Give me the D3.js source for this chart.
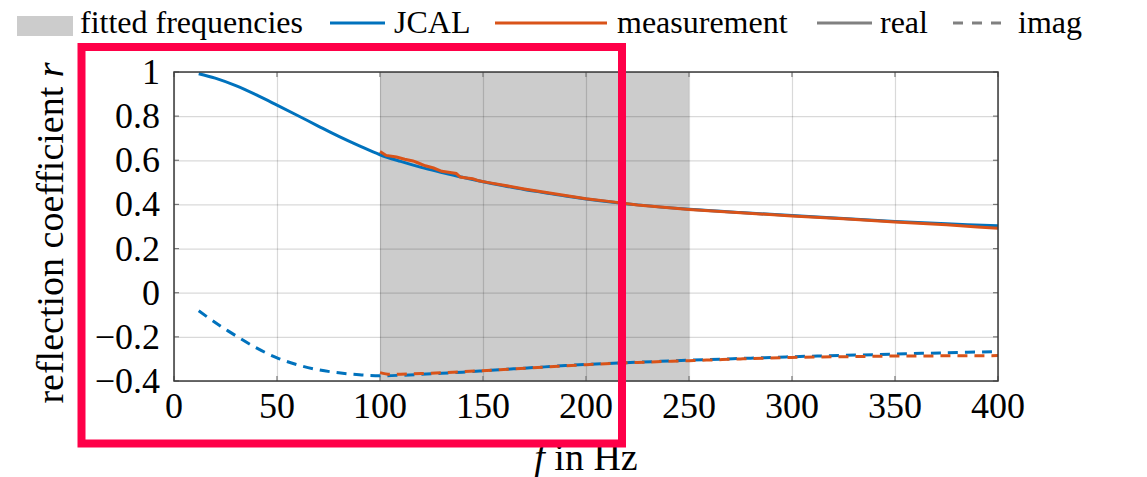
<!DOCTYPE html>
<html>
<head>
<meta charset="utf-8">
<script src="https://cdn.jsdelivr.net/npm/d3@7"></script>
<style>
    body { margin: 0; background: #fff; }
    svg { display: block; }
    text { font-family: 'Liberation Serif', 'Times New Roman', Times, 'DejaVu Serif', serif; }
</style>
</head>
<body>
<svg width="1147" height="477"></svg>
<script>
// JCAL model, sampled in Hz
const jcalFreq = [12, 20, 30, 40, 50, 60, 70, 80, 90, 100, 110, 120, 130, 140, 150, 160, 170, 180, 190, 200,
    225, 250, 275, 300, 325, 350, 375, 400];
const jcalReal = [0.992, 0.972, 0.938, 0.896, 0.85, 0.803, 0.755, 0.708, 0.665, 0.625, 0.595, 0.568, 0.545, 0.523,
    0.503, 0.485, 0.468, 0.453, 0.438, 0.425, 0.398, 0.378, 0.363, 0.35, 0.336, 0.323, 0.312, 0.303];
const jcalImag = [-0.082, -0.135, -0.195, -0.25, -0.295, -0.327, -0.349, -0.363, -0.372, -0.376, -0.374, -0.37,
    -0.365, -0.36, -0.354, -0.348, -0.342, -0.336, -0.33, -0.325, -0.315, -0.306, -0.298, -0.29, -0.284,
    -0.278, -0.272, -0.267];

// measurement
const measRealFreq = [100, 103, 108, 112, 116, 118, 122, 126, 130, 134, 137, 139, 142, 145, 148, 152, 160, 170,
    180, 190, 200, 210, 225, 250, 275, 300, 325, 350, 375, 390, 400];
const measReal = [0.64, 0.622, 0.615, 0.605, 0.597, 0.59, 0.575, 0.565, 0.55, 0.545, 0.54, 0.524, 0.52, 0.516,
    0.507, 0.5, 0.487, 0.47, 0.455, 0.44, 0.426, 0.415, 0.397, 0.377, 0.362, 0.348, 0.335, 0.32, 0.308, 0.298, 0.292];
const measImagFreq = [100, 105, 110, 120, 140, 160, 180, 200, 225, 250, 275, 300, 325, 350, 375, 400];
const measImag = [-0.362, -0.37, -0.369, -0.366, -0.358, -0.348, -0.337, -0.326, -0.316, -0.308, -0.3, -0.293,
    -0.29, -0.287, -0.286, -0.285];

const fittedRange = [100, 250];
const xTicks = [0, 50, 100, 150, 200, 250, 300, 350, 400];
const yTicks = [-0.4, -0.2, 0, 0.2, 0.4, 0.6, 0.8, 1];

const blue = "#0072bd";
const orange = "#d95319";
const serif = "'Liberation Serif', 'Times New Roman', Times, 'DejaVu Serif', serif";

const svg = d3.select("svg").attr("font-family", serif);
const plotLeft = 174, plotRight = 998, plotTop = 72, plotBottom = 381;

const x = d3.scaleLinear().domain([0, 400]).range([plotLeft, plotRight]);
const y = d3.scaleLinear().domain([-0.4, 1]).range([plotBottom, plotTop]);

function fmt(v) {
    return String(+v.toFixed(1)).replace("-", "\u2212");
}

// shaded fitted band
svg.append("rect")
    .attr("x", x(fittedRange[0]))
    .attr("y", plotTop)
    .attr("width", x(fittedRange[1]) - x(fittedRange[0]))
    .attr("height", plotBottom - plotTop)
    .attr("fill", "#cccccc");

// grid
svg.append("g")
    .attr("transform", `translate(0,${plotBottom})`)
    .call(d3.axisBottom(x).tickValues(xTicks).tickSize(-(plotBottom - plotTop)).tickFormat(""))
    .call(g => g.select(".domain").remove())
    .call(g => g.selectAll("line").attr("stroke", "#000").attr("stroke-opacity", 0.15).attr("stroke-width", 1.2));

svg.append("g")
    .attr("transform", `translate(${plotLeft},0)`)
    .call(d3.axisLeft(y).tickValues(yTicks).tickSize(-(plotRight - plotLeft)).tickFormat(""))
    .call(g => g.select(".domain").remove())
    .call(g => g.selectAll("line").attr("stroke", "#000").attr("stroke-opacity", 0.15).attr("stroke-width", 1.2));

// inner tick marks on all four sides
const tickLen = 5;
const tickG = svg.append("g").attr("stroke", "#777").attr("stroke-width", 1.2);
xTicks.forEach(t => {
    tickG.append("line").attr("x1", x(t)).attr("x2", x(t)).attr("y1", plotBottom).attr("y2", plotBottom - tickLen);
    tickG.append("line").attr("x1", x(t)).attr("x2", x(t)).attr("y1", plotTop).attr("y2", plotTop + tickLen);
});
yTicks.forEach(t => {
    tickG.append("line").attr("x1", plotLeft).attr("x2", plotLeft + tickLen).attr("y1", y(t)).attr("y2", y(t));
    tickG.append("line").attr("x1", plotRight).attr("x2", plotRight - tickLen).attr("y1", y(t)).attr("y2", y(t));
});

// curves
function drawCurve(freq, vals, color, dashed, curve) {
    const line = d3.line()
        .x((d, i) => x(freq[i]))
        .y(d => y(d))
        .curve(curve);
    svg.append("path")
        .datum(vals)
        .attr("d", line)
        .attr("fill", "none")
        .attr("stroke", color)
        .attr("stroke-width", 3)
        .attr("stroke-dasharray", dashed ? "10,7" : null);
}

drawCurve(jcalFreq, jcalReal, blue, false, d3.curveCatmullRom);
drawCurve(jcalFreq, jcalImag, blue, true, d3.curveCatmullRom);
drawCurve(measRealFreq, measReal, orange, false, d3.curveLinear);
drawCurve(measImagFreq, measImag, orange, true, d3.curveMonotoneX);

// frame
svg.append("rect")
    .attr("x", plotLeft).attr("y", plotTop)
    .attr("width", plotRight - plotLeft).attr("height", plotBottom - plotTop)
    .attr("fill", "none")
    .attr("stroke", "#3a3a3a")
    .attr("stroke-width", 1.5);

// tick labels
svg.append("g")
    .selectAll("text")
    .data(xTicks)
    .join("text")
    .attr("x", d => x(d))
    .attr("y", 418)
    .attr("text-anchor", "middle")
    .attr("font-size", "36px")
    .text(d => d);

svg.append("g")
    .selectAll("text")
    .data(yTicks)
    .join("text")
    .attr("x", 160)
    .attr("y", d => y(d) + 12)
    .attr("text-anchor", "end")
    .attr("font-size", "36px")
    .text(d => fmt(d));

// axis labels
const xLabel = svg.append("text")
    .attr("x", (plotLeft + plotRight) / 2)
    .attr("y", 470)
    .attr("text-anchor", "middle")
    .attr("font-size", "38px");
xLabel.append("tspan").attr("font-style", "italic").text("f");
xLabel.append("tspan").text(" in Hz");

const yLabel = svg.append("text")
    .attr("transform", `translate(63,233) rotate(-90)`)
    .attr("text-anchor", "middle")
    .attr("font-size", "38px");
yLabel.append("tspan").text("reflection coefficient ");
yLabel.append("tspan").attr("font-style", "italic").text("r");

// legend
const legend = svg.append("g").attr("font-size", "32px");
legend.append("rect").attr("x", 17).attr("y", 16).attr("width", 56).attr("height", 20).attr("fill", "#cccccc");
legend.append("text").attr("x", 80).attr("y", 33).text("fitted frequencies");

function legendLine(x1, x2, color, dashed, label, tx) {
    legend.append("line")
        .attr("x1", x1).attr("x2", x2).attr("y1", 23).attr("y2", 23)
        .attr("stroke", color).attr("stroke-width", 3)
        .attr("stroke-dasharray", dashed ? "10,9" : null);
    legend.append("text").attr("x", tx).attr("y", 33).text(label);
}
legendLine(330, 385, blue, false, "JCAL", 394);
legendLine(495, 607, orange, false, "measurement", 617);
legendLine(817, 872, "#808080", false, "real", 880);
legendLine(953, 1003, "#808080", true, "imag", 1018);

// highlight box
svg.append("rect")
    .attr("x", 81.5).attr("y", 47)
    .attr("width", 622 - 81.5).attr("height", 443.5 - 47)
    .attr("fill", "none")
    .attr("stroke", "#ff0048")
    .attr("stroke-width", 8);
</script>
</body>
</html>
